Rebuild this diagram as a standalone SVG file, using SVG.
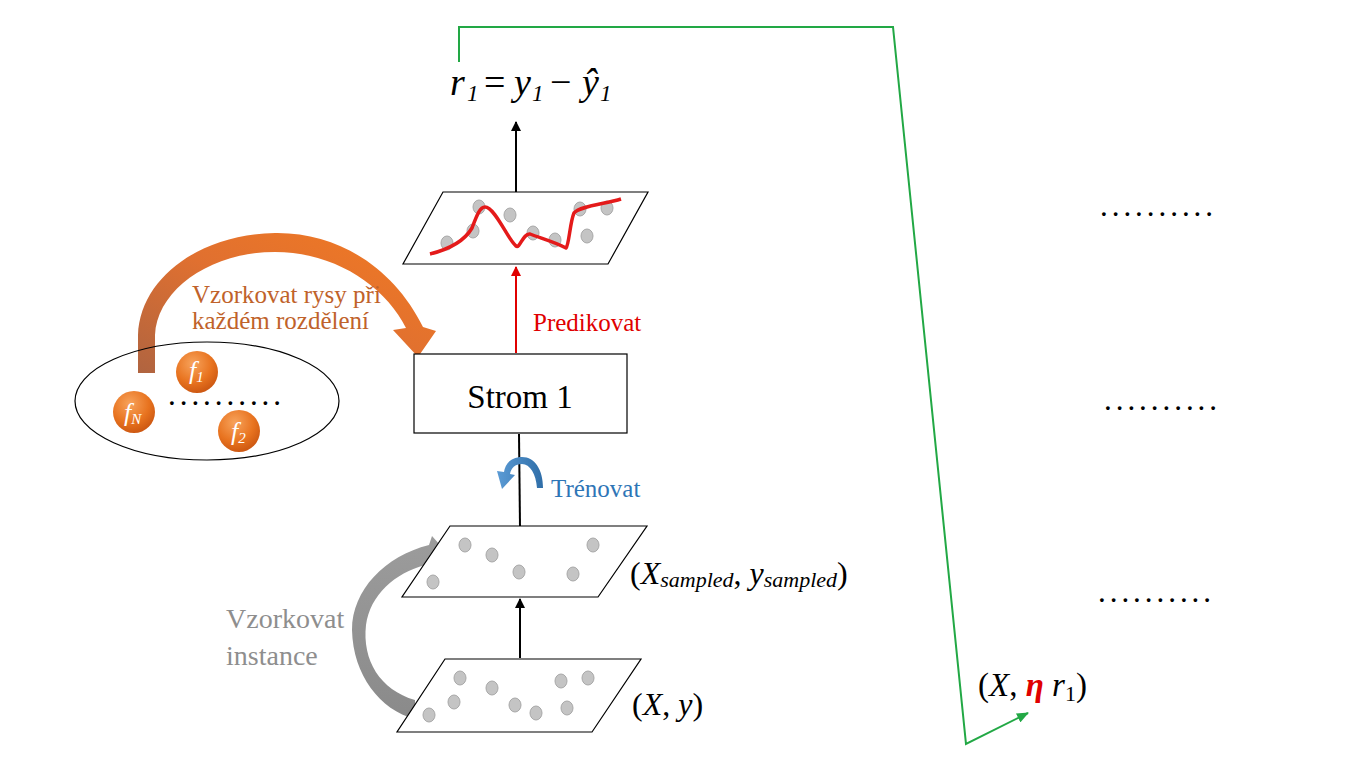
<svg xmlns="http://www.w3.org/2000/svg" width="1365" height="768" viewBox="0 0 1365 768">
<style>
.serif{font-family:"Liberation Serif","Times New Roman",serif}
.it{font-style:italic}
.plane{fill:#fff;stroke:#000;stroke-width:1.2}
.dot{fill:#c4c4c4;stroke:#a8a8a8;stroke-width:1}
.ln{stroke:#000;stroke-width:2;fill:none}
.leader{font-family:"Liberation Serif",serif;font-size:23px;font-weight:bold;letter-spacing:5.95px;fill:#000}
.ball{fill:url(#ballg)}
.ftxt{font-family:"Liberation Serif",serif;font-style:italic;fill:#fff;font-size:26px}
</style>
<defs>
<marker id="ahb" markerWidth="10" markerHeight="10" refX="9" refY="5" orient="auto" markerUnits="userSpaceOnUse"><path d="M0,0 L10,5 L0,10 Z" fill="#000"/></marker>
<marker id="ahr" markerWidth="10" markerHeight="10" refX="9" refY="5" orient="auto" markerUnits="userSpaceOnUse"><path d="M0,0 L10,5 L0,10 Z" fill="#e00000"/></marker>
<marker id="ahg" markerWidth="12" markerHeight="10" refX="11" refY="5" orient="auto" markerUnits="userSpaceOnUse"><path d="M0,0 L12,5 L0,10 Z" fill="#22a845"/></marker>
<radialGradient id="ballg" cx="0.4" cy="0.3" r="0.75"><stop offset="0" stop-color="#f7a35c"/><stop offset="0.6" stop-color="#e8731f"/><stop offset="1" stop-color="#c95410"/></radialGradient>
<linearGradient id="orag" x1="0" y1="1" x2="1" y2="0"><stop offset="0" stop-color="#b06440"/><stop offset="0.5" stop-color="#e07030"/><stop offset="1" stop-color="#f27a22"/></linearGradient>
<linearGradient id="grayg" x1="0" y1="1" x2="0" y2="0"><stop offset="0" stop-color="#8a8a8a"/><stop offset="1" stop-color="#9c9c9c"/></linearGradient>
<linearGradient id="blueg" x1="0" y1="0" x2="1" y2="0"><stop offset="0" stop-color="#5b9bd5"/><stop offset="1" stop-color="#2f6ea8"/></linearGradient>
</defs>

<g id="connectors">
<polyline points="459,62 459,27 893,27 966,744 1028,713" fill="none" stroke="#22a845" stroke-width="2" marker-end="url(#ahg)"/>
<line x1="516" y1="192" x2="516" y2="122" class="ln" marker-end="url(#ahb)"/>
<line x1="516" y1="353" x2="516" y2="267" stroke="#e00000" stroke-width="2" marker-end="url(#ahr)"/>
<line x1="519" y1="434" x2="520" y2="526" class="ln"/>
<line x1="520" y1="658" x2="520" y2="599" class="ln" marker-end="url(#ahb)"/>
<path id="orangeArrow" d="M138,373 L138,335 C140,278 200,234 275,233 C340,232 395,270 423,327 L436,331 L418,357 L393,330 L406,328 C385,286 335,252 275,252 C210,252 157,290 155,335 L155,373 Z" fill="url(#orag)"/>
<path id="grayArrow" d="M415,700 C380,690 362,660 366,625 C370,595 395,573 425,565 L423,575 L449,555 L432,536 L429,545 C385,556 352,590 352,630 C353,675 380,710 415,719 Z" fill="url(#grayg)"/>
<path id="blueArrow" d="M543,488 C543,470 535,457 522,457 C510,457 505,465 504,472 L497,471 L502,489 L515,475 L510,474 C511,468 515,464 522,464 C530,464 536,474 537,488 Z" fill="url(#blueg)"/>
</g>

<g id="formula">
<text y="95" class="serif it" font-size="38"><tspan x="450">r</tspan><tspan x="467" font-size="23" dy="6">1</tspan><tspan x="484" dy="-6" font-style="normal">=</tspan><tspan x="514">y</tspan><tspan x="532" font-size="23" dy="6">1</tspan><tspan x="550" dy="-6" font-style="normal">−</tspan><tspan x="582">ŷ</tspan><tspan x="600" font-size="23" dy="6">1</tspan></text>
</g>

<g id="planeTop">
<polygon points="443,192 648,192 608,264 403,264" class="plane"/>
<ellipse cx="447" cy="243" rx="6" ry="7" class="dot"/>
<ellipse cx="473" cy="231" rx="6" ry="7" class="dot"/>
<ellipse cx="479" cy="207" rx="6" ry="7" class="dot"/>
<ellipse cx="510" cy="215" rx="6" ry="7" class="dot"/>
<ellipse cx="533" cy="233" rx="6" ry="7" class="dot"/>
<ellipse cx="555" cy="240" rx="6" ry="7" class="dot"/>
<ellipse cx="580" cy="209" rx="6" ry="7" class="dot"/>
<ellipse cx="587" cy="236" rx="6" ry="7" class="dot"/>
<ellipse cx="607" cy="208" rx="6" ry="7" class="dot"/>
<path d="M430,254 C450,249 465,240 472,228 C477,215 480,207 485,207 C495,207 508,240 516,246 C520,249 523,233 530,234 C540,238 555,242 566,248 C569,245 570,222 574,213 C580,206 605,204 621,199" fill="none" stroke="#e41a1a" stroke-width="3.5" stroke-linejoin="round"/>
</g>

<text x="533" y="331" class="serif" font-size="25" fill="#e00000">Predikovat</text>

<g id="strom1">
<rect x="414" y="354" width="213" height="79" fill="#fff" stroke="#000" stroke-width="1.2"/>
<text x="520" y="408" class="serif" font-size="33" text-anchor="middle">Strom 1</text>
</g>

<text x="551" y="497" class="serif" font-size="25" fill="#2e75b6">Trénovat</text>

<g id="planeMid">
<polygon points="450,526 647,526 598,597 402,597" class="plane"/>
<ellipse cx="465" cy="545" rx="6" ry="7" class="dot"/>
<ellipse cx="492" cy="555" rx="6" ry="7" class="dot"/>
<ellipse cx="519" cy="572" rx="6" ry="7" class="dot"/>
<ellipse cx="573" cy="574" rx="6" ry="7" class="dot"/>
<ellipse cx="593" cy="545" rx="6" ry="7" class="dot"/>
<ellipse cx="433" cy="582" rx="6" ry="7" class="dot"/>
<text x="630" y="584" class="serif" font-size="32">(<tspan class="it">X</tspan><tspan class="it" font-size="22" dy="3">sampled</tspan><tspan dy="-3">, </tspan><tspan class="it">y</tspan><tspan class="it" font-size="22" dy="3">sampled</tspan><tspan dy="-3">)</tspan></text>
</g>

<g id="planeBot">
<polygon points="445,659 641,659 592,732 397,732" class="plane"/>
<ellipse cx="460" cy="678" rx="6" ry="7" class="dot"/>
<ellipse cx="492" cy="688" rx="6" ry="7" class="dot"/>
<ellipse cx="561" cy="681" rx="6" ry="7" class="dot"/>
<ellipse cx="588" cy="678" rx="6" ry="7" class="dot"/>
<ellipse cx="454" cy="702" rx="6" ry="7" class="dot"/>
<ellipse cx="515" cy="705" rx="6" ry="7" class="dot"/>
<ellipse cx="536" cy="713" rx="6" ry="7" class="dot"/>
<ellipse cx="567" cy="708" rx="6" ry="7" class="dot"/>
<ellipse cx="429" cy="715" rx="6" ry="7" class="dot"/>
<text x="632" y="715" class="serif" font-size="32">(<tspan class="it">X</tspan>, <tspan class="it">y</tspan>)</text>
</g>

<g id="sampleInstances">
<text class="serif" font-size="28" fill="#8e8e8e"><tspan x="226" y="628">Vzorkovat</tspan><tspan x="226" y="665">instance</tspan></text>
</g>

<g id="sampleFeatures">
<text class="serif" font-size="25" fill="#c0622a"><tspan x="192" y="303">Vzorkovat rysy při</tspan><tspan x="192" y="329">každém rozdělení</tspan></text>
</g>

<g id="featureSet">
<ellipse cx="207" cy="401" rx="132" ry="59" fill="none" stroke="#000" stroke-width="1.2"/>
<circle cx="197" cy="372" r="21" class="ball"/>
<text x="189" y="379" class="ftxt">f<tspan font-size="15" dy="3">1</tspan></text>
<circle cx="134" cy="412" r="21" class="ball"/>
<text x="124" y="421" class="ftxt">f<tspan font-size="15" dy="3">N</tspan></text>
<circle cx="239" cy="431" r="21" class="ball"/>
<text x="231" y="440" class="ftxt">f<tspan font-size="15" dy="3">2</tspan></text>
<text x="169" y="405" class="leader">..........</text>
</g>

<g id="more">
<text x="1101" y="216" class="leader">..........</text>
<text x="1105" y="410" class="leader">..........</text>
<text x="1099" y="602" class="leader">..........</text>
</g>

<g id="nextTarget">
<text x="978" y="696" class="serif" font-size="33">(<tspan class="it">X</tspan>, <tspan class="it" fill="#e00000" font-weight="bold">η</tspan> <tspan class="it">r</tspan><tspan font-size="22" dy="5">1</tspan><tspan dy="-5">)</tspan></text>
</g>
</svg>
